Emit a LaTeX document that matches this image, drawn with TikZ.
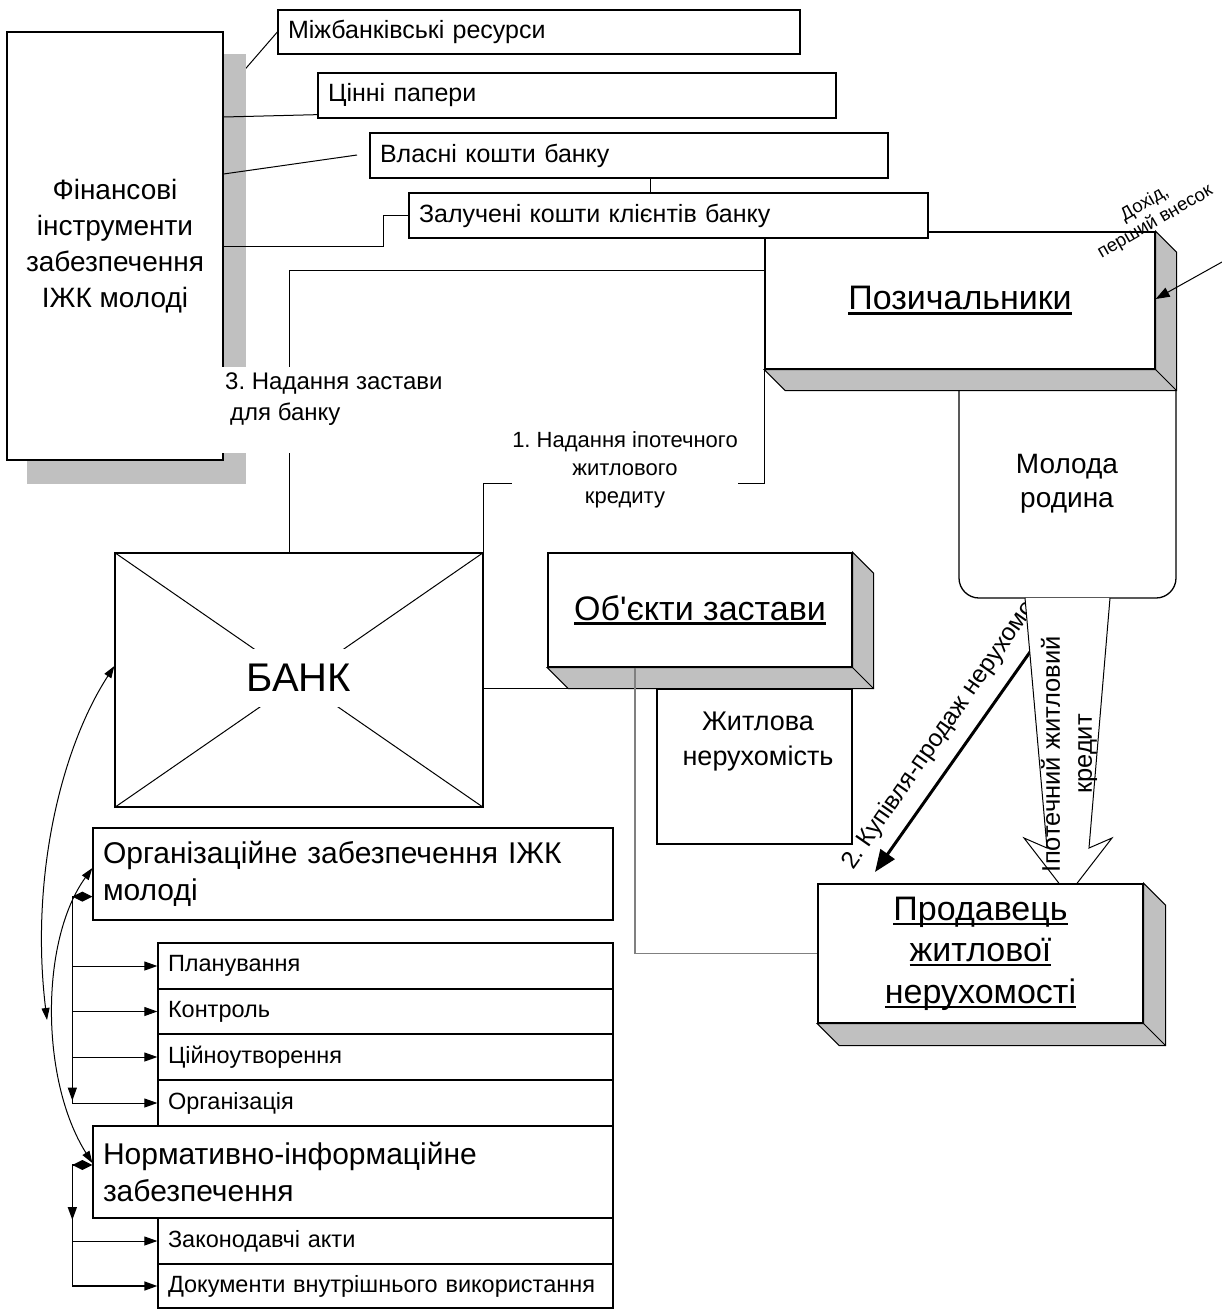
\documentclass[tikz,border=0pt]{standalone}
\usepackage{fontspec}
\setmainfont{Liberation Sans}[Ligatures=TeXOff]
\usetikzlibrary{arrows.meta,calc}
\pgfdeclarelayer{paper}
\pgfdeclarelayer{under}
\pgfdeclarelayer{shade}
\pgfsetlayers{paper,under,shade,main}
\definecolor{facegray}{HTML}{C0C0C0}
\definecolor{linkgray}{HTML}{808080}
\frenchspacing
\newcommand\fsz[2]{\fontsize{#1}{#2}\selectfont}
\newcommand\ulword[1]{\setbox0\hbox{#1}\rlap{\rule[-0.14em]{\wd0}{0.07em}}\box0}
\tikzset{
  box/.style={draw, fill=white, line width=1.3pt, inner sep=0pt},
  leftbox/.style={box, align=left, inner xsep=10pt},
  link/.style={line width=1pt},
  tip/.style={-{Triangle[length=13pt,width=9pt]}},
  face/.style={fill=facegray, draw=black, line width=1pt},
}
% right and bottom faces of a raised box
\newcommand\cuboid[2]{%
  \filldraw[face] (#1.north east) -- ++(#2,#2) -- ($(#1.south east)+(#2,#2)$)
    -- ($(#1.south west)+(#2,#2)$) -- (#1.south west) -- (#1.south east) -- cycle;
  \draw[line width=1pt] (#1.south east) -- ++(#2,#2);
}
\begin{document}
\begin{tikzpicture}[x=1pt,y=-1pt]
\useasboundingbox (0,0) rectangle (1222,1309);
\begin{pgfonlayer}{paper}
  \fill[white] (0,0) rectangle (1222,1309);
\end{pgfonlayer}

% financial instruments and their sources
\node[box, minimum width=216pt, minimum height=428pt, align=center, font=\fsz{28}{36}] (fin) at (115,246)
  {Фінансові\\інструменти\\забезпечення\\ІЖК молоді};
\node[leftbox, text width=502pt, minimum height=44pt, font=\fsz{25}{30}] (b1) at (539,32) {Міжбанківські ресурси};
\node[leftbox, text width=498pt, minimum height=45pt, font=\fsz{25}{30}] (b2) at (577,95.5) {Цінні папери};
\node[leftbox, text width=498pt, minimum height=45pt, font=\fsz{25}{30}] (b3) at (629,155.5) {Власні кошти банку};

\begin{pgfonlayer}{under}
  \draw[link] ($(fin.east)+(0,-152)$) -- (b1.west);
\end{pgfonlayer}
\begin{pgfonlayer}{shade}
  \fill[facegray] ($(fin.south west)+(21,23)$) rectangle ($(fin.north east)+(22,23)$);
\end{pgfonlayer}

% young family and borrowers
\node[box, rounded corners=20pt, minimum width=217pt, minimum height=231pt] (molod) at (1067.5,482.5) {};
\node[align=center, font=\fsz{28}{34}, inner sep=0pt] (molodtxt) at (1067,484) {Молода\\родина};
\node[box, minimum width=390pt, minimum height=137pt, font=\fsz{34}{41}] (pz) at (960,300.5) {\ulword{Позичальники}};
\cuboid{pz}{21}
\node[leftbox, text width=499pt, minimum height=45pt, font=\fsz{25}{30}] (b4) at (668.5,215.5) {Залучені кошти клієнтів банку};

\draw[link] ($(fin.east)+(0,-129)$) -- ($(b2.south west)+(0,-4)$);
\coordinate (l3end) at (357,155);
\draw[link] ($(fin.east)+(0,-72)$) -- (l3end);
\draw[link] (fin.east) -- ++(160,0) |- (b4.west);
\draw[link] (650,0 |- b3.south) -- (650,0 |- b4.north);

% bank
\node[box, minimum width=368pt, minimum height=254pt] (bank) at (299,680) {};
\draw[link] (bank.north west) -- (bank.south east) (bank.north east) -- (bank.south west);
\node[fill=white, inner xsep=2pt, inner ysep=15pt, font=\fsz{40}{48}] (banktxt) at (299,678) {БАНК};

% 3: pledge for the bank
\coordinate (c3) at (289,270);
\draw[link] (bank.north -| c3) -- (c3) -- (c3 -| pz.west);
\fill[white] (221,367) rectangle (452,453);
\node[anchor=north west, inner sep=0pt, align=left, font=\fsz{24}{31}] (lbl3) at (225,373)
  {3. Надання застави\\\hspace*{5pt}для банку};

% 1: mortgage credit
\draw[link] (pz.south west) -- ++(0,114) -| (bank.north east);
\node[fill=white, inner xsep=0pt, inner ysep=2pt, align=center, font=\fsz{22}{28}] (lbl1) at (625,470)
  {1. Надання іпотечного\\житлового\\кредиту};

% collateral
\node[box, minimum width=304pt, minimum height=114pt, font=\fsz{34}{41}] (oz) at (700,610) {\ulword{Об'єкти застави}};
\cuboid{oz}{21}
\node[box, minimum width=195pt, minimum height=155pt] (zh) at (754.5,766.5) {};
\node[align=center, inner sep=0pt, font=\fsz{27}{35}] (zhtxt) at (758,742) {Житлова\\нерухомість};
\coordinate (ozend) at (603,688);
\draw[link] (bank.east |- ozend) -- (ozend);

% 2: purchase and sale
\coordinate (kpstart) at (1030,652);
\coordinate (kpend) at (875,872);
\draw[line width=3pt, -{Triangle[length=22pt,width=17pt]}] (kpstart) -- (kpend);
\begin{pgfonlayer}{under}
  \node[anchor=base west, inner sep=0pt, rotate=55.2, font=\fsz{24.5}{29}] (kptxt) at (853,871) {2. Купівля-продаж нерухомості};
\end{pgfonlayer}

% mortgage credit block arrow
\filldraw[fill=white, draw=black, line width=1pt] (1025,598) -- (1047,848) -- (1024,838) -- (1068,895)
  -- (1112,838) -- (1089,848) -- (1110,598);
\node[rotate=90, align=center, inner sep=0pt, font=\fsz{25.5}{32}] (ipotxt) at (1069,754) {Іпотечний житловий\\кредит};

% seller
\node[box, minimum width=325pt, minimum height=139pt, align=center, font=\fsz{34}{41.5}] (prod) at (980.5,953.5)
  {\ulword{Продавець}\\\ulword{житлової}\\\ulword{нерухомості}};
\cuboid{prod}{22}
\draw[line width=1.3pt, draw=linkgray] (oz.south -| 635,0) |- (prod.west);

% income and down payment
\coordinate (dohst) at (1222,262);
\draw[link, -{Triangle[length=14pt,width=10pt]}] (dohst) -- (pz.east |- 0,299);
\node[rotate=30, align=center, inner sep=0pt, font=\fsz{18.5}{21}] (dohtxt) at (1150,213) {Дохід,\\перший внесок};

% organisational support
\node[leftbox, text width=500pt, minimum height=92pt, font=\fsz{30}{37}] (org) at (353,874) {Організаційне забезпечення ІЖК\\молоді};
\node[leftbox, text width=435pt, minimum height=46pt, font=\fsz{23.5}{29}] (plan) at (385.5,966) {Планування};
\node[leftbox, text width=435pt, minimum height=45pt, font=\fsz{23.5}{29}] (kontr) at (385.5,1011.5) {Контроль};
\node[leftbox, text width=435pt, minimum height=46pt, font=\fsz{23.5}{29}] (tsin) at (385.5,1057) {Ційноутворення};
\node[leftbox, text width=435pt, minimum height=46pt, font=\fsz{23.5}{29}] (orgn) at (385.5,1103) {Організація};
\node[leftbox, text width=500pt, minimum height=92pt, font=\fsz{30}{37}] (norm) at (353,1172) {Нормативно-інформаційне\\забезпечення};
\node[leftbox, text width=435pt, minimum height=46pt, font=\fsz{23.5}{29}] (zak) at (385.5,1241) {Законодавчі акти};
\node[leftbox, text width=435pt, minimum height=44pt, font=\fsz{23.5}{29}] (dok) at (385.5,1286) {\mbox{Документи внутрішнього використання}};

\coordinate (ot) at ($(org.south west)+(0,-24)$);
\coordinate (otv) at ($(ot)+(-20,0)$);
\draw[link, {Diamond[length=20pt,width=10pt]}-{Triangle[length=13pt,width=9pt]}] (ot) -- (otv) |- (orgn.west);
\draw[link, tip] (otv) -- ++(0,204);
\foreach \n in {plan,kontr,tsin} \draw[link, tip] (\n.west -| otv) -- (\n.west);

\coordinate (nt) at ($(norm.west)+(0,-7)$);
\coordinate (ntv) at ($(nt)+(-20,0)$);
\draw[line width=1.6pt, {Diamond[length=20pt,width=10pt]}-{Triangle[length=13pt,width=9pt]}] (nt) -- (ntv) |- (dok.west);
\draw[line width=1.6pt, tip] (ntv) -- ++(0,55);
\draw[link, tip] (zak.west -| ntv) -- (zak.west);

% links between the bank and the support blocks
\coordinate (c1end) at (47,1020);
\draw[link, {Triangle[length=12pt,width=8pt]}-{Triangle[length=12pt,width=8pt]}]
  (bank.west |- 0,666) .. controls (60,750) and (30,880) .. (c1end);
\draw[link, {Triangle[length=12pt,width=8pt]}-{Triangle[length=12pt,width=8pt]}]
  (org.west |- 0,868) .. controls (40,940) and (40,1080) .. (norm.west |- 0,1163);
\end{tikzpicture}
\end{document}
